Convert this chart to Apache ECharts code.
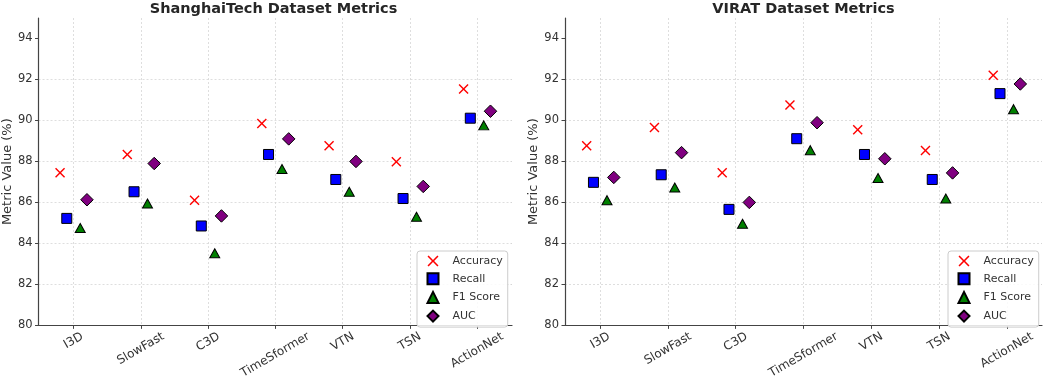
<!DOCTYPE html>
<html><head><meta charset="utf-8">
<script src="https://cdn.jsdelivr.net/npm/echarts@6/dist/echarts.min.js"></script>
<style>html,body{margin:0;padding:0;background:#fff}#c{width:1052px;height:381px}</style>
</head><body><div id="c"></div>
<script>
const categories = ['I3D', 'SlowFast', 'C3D', 'TimeSformer', 'VTN', 'TSN', 'ActionNet'];
const metricNames = ['Accuracy', 'Recall', 'F1 Score', 'AUC'];
const yTicks = [80, 82, 84, 86, 88, 90, 92, 94];
const chartTitles = ['ShanghaiTech Dataset Metrics', 'VIRAT Dataset Metrics'];

const shanghaiAccuracy = [87.45, 88.34, 86.11, 89.85, 88.76, 87.98, 91.53];
const shanghaiRecall   = [85.22, 86.52, 84.85, 88.34, 87.12, 86.19, 90.11];
const shanghaiF1       = [84.75, 85.95, 83.52, 87.63, 86.52, 85.30, 89.76];
const shanghaiAUC      = [86.13, 87.90, 85.34, 89.10, 88.00, 86.78, 90.45];

const viratAccuracy = [88.76, 89.66, 87.45, 90.76, 89.55, 88.53, 92.21];
const viratRecall   = [86.98, 87.35, 85.66, 89.11, 88.34, 87.12, 91.31];
const viratF1       = [86.11, 86.73, 84.96, 88.55, 87.19, 86.19, 90.55];
const viratAUC      = [87.22, 88.43, 86.00, 89.89, 88.13, 87.44, 91.78];

const datasets = [
  [shanghaiAccuracy, shanghaiRecall, shanghaiF1, shanghaiAUC],
  [viratAccuracy, viratRecall, viratF1, viratAUC]
];

const FONT = 'DejaVu Sans';
const TXT = '#333333';
const AX = '#444444';
const catIdx = categories.map((_, i) => i);

// per-label padding so rotated labels are centred under their tick (matplotlib style)
const ctx = document.createElement('canvas').getContext('2d');
ctx.font = '12px "DejaVu Sans"';
const rich = {};
categories.forEach((c, i) => {
  const w = ctx.measureText(c).width;
  const d = 2.3 + 0.25 * w;
  rich['c' + i] = { fontSize: 12, fontFamily: FONT, color: TXT, padding: [1.732 * d, d, 0, 0] };
});

const xPath = 'path://M0,1L1,0L5,4L9,0L10,1L6,5L10,9L9,10L5,6L1,10L0,9L4,5Z';
const metricStyle = [
  { symbol: xPath, size: 10, itemStyle: { color: '#ff0000', borderWidth: 0, opacity: 1 } },
  { symbol: 'rect', size: 10, itemStyle: { color: '#0000ff', borderColor: '#000', borderWidth: 1, opacity: 1 } },
  { symbol: 'triangle', size: [10, 9], itemStyle: { color: '#008000', borderColor: '#000', borderWidth: 1, opacity: 1 } },
  { symbol: 'diamond', size: 12.5, itemStyle: { color: '#800080', borderColor: '#000', borderWidth: 1, opacity: 1 } }
];
const offsets = [-0.2, -0.1, 0.1, 0.2];

const gridLeft = [35, 565];
const gridW = 477;
const splitStyle = { color: '#d6d6d6', type: [2, 2], width: 0.8 };

const grids = gridLeft.map(l => ({ left: l, top: 18, width: gridW, height: 308.7, containLabel: false }));

const xAxes = gridLeft.map((_, gi) => ({
  type: 'value', gridIndex: gi, min: -0.52, max: 6.52,
  axisLine: { show: true, onZero: false, lineStyle: { color: AX, width: 1.2 } },
  axisTick: { show: true, customValues: catIdx, length: 3.5, lineStyle: { color: AX, width: 1 } },
  axisLabel: {
    customValues: catIdx, rotate: 30, align: 'center', verticalAlign: 'middle', margin: 8,
    formatter: v => { const i = Math.round(v); return '{c' + i + '|' + categories[i] + '}'; },
    rich: rich
  },
  splitLine: { show: true, lineStyle: splitStyle }
}));

const yAxes = gridLeft.map((_, gi) => ({
  type: 'value', gridIndex: gi, min: 80, max: 95,
  name: 'Metric Value (%)', nameLocation: 'middle', nameGap: 20,
  nameTextStyle: { fontSize: 13, color: TXT, fontFamily: FONT },
  axisLine: { show: true, onZero: false, lineStyle: { color: AX, width: 1.2 } },
  axisTick: { show: true, customValues: yTicks, length: 3.5, lineStyle: { color: AX, width: 1 } },
  axisLabel: { customValues: yTicks, fontSize: 11.5, color: TXT, margin: 6, fontFamily: FONT },
  splitLine: { show: true, showMaxLine: false, showMinLine: false, lineStyle: splitStyle }
}));

const series = [];
datasets.forEach((metrics, gi) => {
  metrics.forEach((vals, mi) => {
    series.push({
      type: 'scatter', name: metricNames[mi], xAxisIndex: gi, yAxisIndex: gi,
      symbol: metricStyle[mi].symbol, symbolSize: metricStyle[mi].size,
      itemStyle: metricStyle[mi].itemStyle,
      emphasis: { disabled: true },
      data: vals.map((v, i) => [i + offsets[mi], v])
    });
  });
});

const legends = [417, 948].map(l => ({
  left: l, top: 251, orient: 'vertical', data: metricNames,
  itemWidth: 11, itemHeight: 11, itemGap: 5.7, padding: [4.5, 5, 4.5, 9.5],
  backgroundColor: 'rgba(255,255,255,0.85)', borderColor: '#cccccc', borderWidth: 1, borderRadius: 3,
  textStyle: { fontSize: 11, color: TXT, fontFamily: FONT, padding: [0, 0, 0, 9] }
}));

const titles = chartTitles.map((t, gi) => ({
  text: t, left: gridLeft[gi] + gridW / 2, top: 2, textAlign: 'center', padding: 0,
  textStyle: { fontSize: 14.5, fontWeight: 'bold', color: '#262626', fontFamily: FONT }
}));

const chart = echarts.init(document.getElementById('c'), null, { renderer: 'canvas' });
chart.setOption({
  animation: false,
  backgroundColor: '#ffffff',
  textStyle: { fontFamily: FONT },
  title: titles,
  legend: legends,
  grid: grids,
  xAxis: xAxes,
  yAxis: yAxes,
  series: series
});
</script></body></html>
